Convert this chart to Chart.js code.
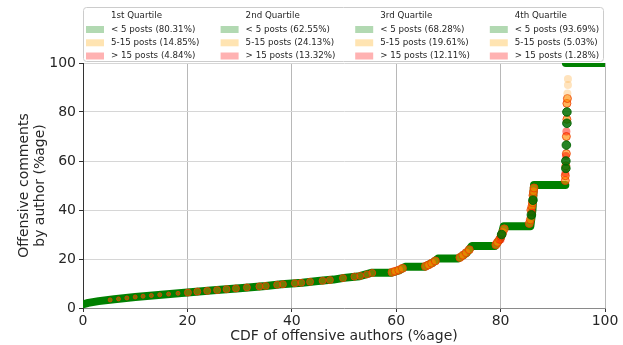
<!DOCTYPE html>
<html>
<head>
<meta charset="utf-8">
<script src="https://cdn.jsdelivr.net/npm/chart.js@4"></script>
<style>
  html, body { margin: 0; padding: 0; background: #fff; }
  #wrap { width: 623px; height: 345px; position: relative; }
</style>
</head>
<body>
<div id="wrap"><canvas id="cdfChart" width="623" height="345"></canvas></div>
<script>
// Legend text
const quartiles = ['1st Quartile', '2nd Quartile', '3rd Quartile', '4th Quartile'];
const lowShare = ['80.31%', '62.55%', '68.28%', '93.69%'];
const midShare = ['14.85%', '24.13%', '19.61%', '5.03%'];
const highShare = ['4.84%', '13.32%', '12.11%', '1.28%'];
const xTicks = [0, 20, 40, 60, 80, 100];
const yTicks = [0, 20, 40, 60, 80, 100];

// Main CDF curve (< 5 posts), null breaks the line
const greenX = [0, 1, 3, 6, 10, 15, 20, 25, 30, 35, 38, 42, 45, 48, 50, 53, 55.4, 59.1, 60.5, 61.7, 65.4, 67, 68, 71.9, 73.5, 74.5, 78.9, 80, 80.6, 85.7, 86.1, 86.4, 92.4, 92.5, 92.5, 100];
const greenY = [1.5, 2.1, 2.8, 3.6, 4.5, 5.4, 6.3, 7.2, 8.1, 9.0, 9.7, 10.3, 11.0, 11.6, 12.3, 13.0, 14.4, 14.4, 15.3, 16.8, 16.8, 18.5, 20.2, 20.2, 22.5, 25.3, 25.3, 28.5, 33.4, 33.4, 40, 50.2, 50.2, null, 100, 100];

// isolated < 5 posts points along the jumps
const greenDotX = [80.2, 85.9, 86.2, 92.5, 92.5, 92.6, 92.7, 92.7];
const greenDotY = [30, 38, 44, 57, 60, 66.5, 75.4, 80];

// 5-15 posts
const orangeX = [5.2, 6.8, 8.4, 10.0, 11.5, 13.1, 14.7, 16.4, 18.2, 20.1, 21.9, 23.8, 25.7, 27.5, 29.3, 31.4, 33.8, 35.0, 37.2, 38.3, 40.6, 41.8, 43.5, 45.9, 47.3, 49.8, 52.0, 53.1, 54.4, 55.4,
  59.2, 59.8, 60.5, 61.2, 65.6, 66.2, 66.8, 67.5, 72.2, 72.8, 73.4, 74.0, 79.1, 79.4, 79.8, 80.1, 80.4, 80.7,
  85.5, 85.7, 85.8, 86.0, 86.1, 86.2, 86.3, 86.4, 92.4, 92.4, 92.5, 92.6, 92.6, 92.7, 92.7, 92.8];
const orangeY = [3.3, 3.7, 4.1, 4.5, 4.8, 5.1, 5.4, 5.7, 6.0, 6.3, 6.7, 7.0, 7.3, 7.7, 8.0, 8.4, 8.8, 9.0, 9.5, 9.7, 10.1, 10.3, 10.7, 11.1, 11.4, 12.2, 12.8, 13.1, 13.7, 14.3,
  14.6, 15.0, 15.5, 16.2, 17.0, 17.6, 18.3, 19.2, 20.6, 21.5, 22.6, 23.8, 25.8, 26.8, 28.0, 29.3, 30.8, 32.3,
  34.5, 36.0, 40.0, 41.5, 43.0, 46.0, 47.5, 49.0, 52, 54, 58, 63, 70, 77, 83.5, 85.5];

// > 15 posts
const redX = [80.0, 86.0, 92.4, 92.5, 92.6];
const redY = [28, 39, 55, 62, 72];

// faint top points of the 4th quartile
const fadedX = [92.8, 92.9, 92.9];
const fadedY = [87.6, 91, 93.5];

function toPoints(xs, ys) {
    return xs.map((x, i) => ({ x: x, y: ys[i] }));
}

const FONT = "'DejaVu Sans', sans-serif";

// Legend drawn in four titled columns
const quartileLegend = {
    id: 'quartileLegend',
    afterDatasetsDraw(chart) {
        const ctx = chart.ctx;
        ctx.save();
        ctx.fillStyle = 'rgba(255,255,255,0.85)';
        ctx.strokeStyle = '#cccccc';
        ctx.lineWidth = 1;
        ctx.beginPath();
        ctx.roundRect(83.5, 7.5, 520, 54, 3);
        ctx.fill();
        ctx.stroke();

        const patchColors = ['rgba(0,128,0,0.3)', 'rgba(255,165,0,0.3)', 'rgba(255,0,0,0.3)'];
        const rowY = [16, 29.5, 42.8, 56];
        ctx.font = '8.7px ' + FONT;
        ctx.textBaseline = 'middle';
        ctx.textAlign = 'left';
        quartiles.forEach((q, i) => {
            const px = 86 + i * 134.6;
            const tx = px + 25;
            ctx.fillStyle = '#262626';
            ctx.fillText(q, tx, rowY[0]);
            const labels = [
                '< 5 posts (' + lowShare[i] + ')',
                '5-15 posts (' + midShare[i] + ')',
                '> 15 posts (' + highShare[i] + ')'
            ];
            labels.forEach((lab, j) => {
                ctx.fillStyle = patchColors[j];
                ctx.fillRect(px, rowY[j + 1] - 3.5, 18, 7);
                ctx.fillStyle = '#262626';
                ctx.fillText(lab, tx, rowY[j + 1]);
            });
        });
        ctx.restore();
    }
};

const ctx = document.getElementById('cdfChart').getContext('2d');
new Chart(ctx, {
    type: 'scatter',
    data: {
        datasets: [
            {
                type: 'line',
                data: toPoints(greenX, greenY),
                borderColor: '#008000',
                borderWidth: 8,
                borderCapStyle: 'round',
                borderJoinStyle: 'round',
                pointRadius: 0,
                spanGaps: false,
                tension: 0,
                clip: 0,
                order: 5
            },
            {
                data: toPoints(orangeX, orangeY),
                backgroundColor: ctx => (ctx.raw && ctx.raw.x < 56 ? 'rgba(255,120,0,0.45)' : 'rgba(255,140,0,0.65)'),
                borderColor: 'rgba(235,60,0,0.8)',
                borderWidth: 1,
                pointRadius: ctx => (ctx.raw && ctx.raw.x < 20 ? 2 : (ctx.raw && ctx.raw.x < 56 ? 3.5 : 4)),
                clip: 0,
                order: 3
            },
            {
                data: toPoints(redX, redY),
                backgroundColor: 'rgba(255,20,0,0.5)',
                borderColor: 'rgba(255,20,0,0.5)',
                borderWidth: 0,
                pointRadius: 4,
                clip: 0,
                order: 2
            },
            {
                data: toPoints(fadedX, fadedY),
                backgroundColor: 'rgba(255,185,90,0.4)',
                borderWidth: 0,
                pointRadius: 4,
                clip: 0,
                order: 1
            },
            {
                data: toPoints(greenDotX, greenDotY),
                backgroundColor: 'rgba(0,110,0,0.85)',
                borderColor: 'rgba(0,100,0,0.9)',
                borderWidth: 1,
                pointRadius: 4.3,
                clip: 0,
                order: 0
            }
        ]
    },
    options: {
        responsive: false,
        animation: false,
        events: [],
        layout: { padding: { left: 0, right: 18, top: 63, bottom: 0 } },
        plugins: {
            legend: { display: false },
            tooltip: { enabled: false }
        },
        scales: {
            x: {
                type: 'linear',
                min: 0,
                max: 100,
                afterBuildTicks: axis => { axis.ticks = xTicks.map(v => ({ value: v })); },
                afterFit: axis => { axis.height = 37; },
                ticks: {
                    color: '#262626',
                    padding: 1,
                    maxRotation: 0,
                    font: { family: FONT, size: 14 }
                },
                grid: {
                    color: '#b8b8b8',
                    tickColor: '#333',
                    tickLength: 4
                },
                border: { color: '#8a8a8a' },
                title: {
                    display: true,
                    text: 'CDF of offensive authors (%age)',
                    color: '#262626',
                    padding: { top: 0, bottom: 0 },
                    font: { family: FONT, size: 14 }
                }
            },
            y: {
                min: 0,
                max: 100,
                afterBuildTicks: axis => { axis.ticks = yTicks.map(v => ({ value: v })); },
                afterFit: axis => { axis.width = 83; },
                ticks: {
                    color: '#262626',
                    padding: 3,
                    font: { family: FONT, size: 14 }
                },
                grid: {
                    color: '#d6d6d6',
                    tickColor: '#333',
                    tickLength: 4
                },
                border: { color: '#333' },
                title: {
                    display: true,
                    text: ['Offensive comments', 'by author (%age)'],
                    color: '#262626',
                    padding: { top: 17, bottom: 0 },
                    font: { family: FONT, size: 14, lineHeight: 1.1 }
                }
            }
        }
    },
    plugins: [quartileLegend]
});
</script>
</body>
</html>
